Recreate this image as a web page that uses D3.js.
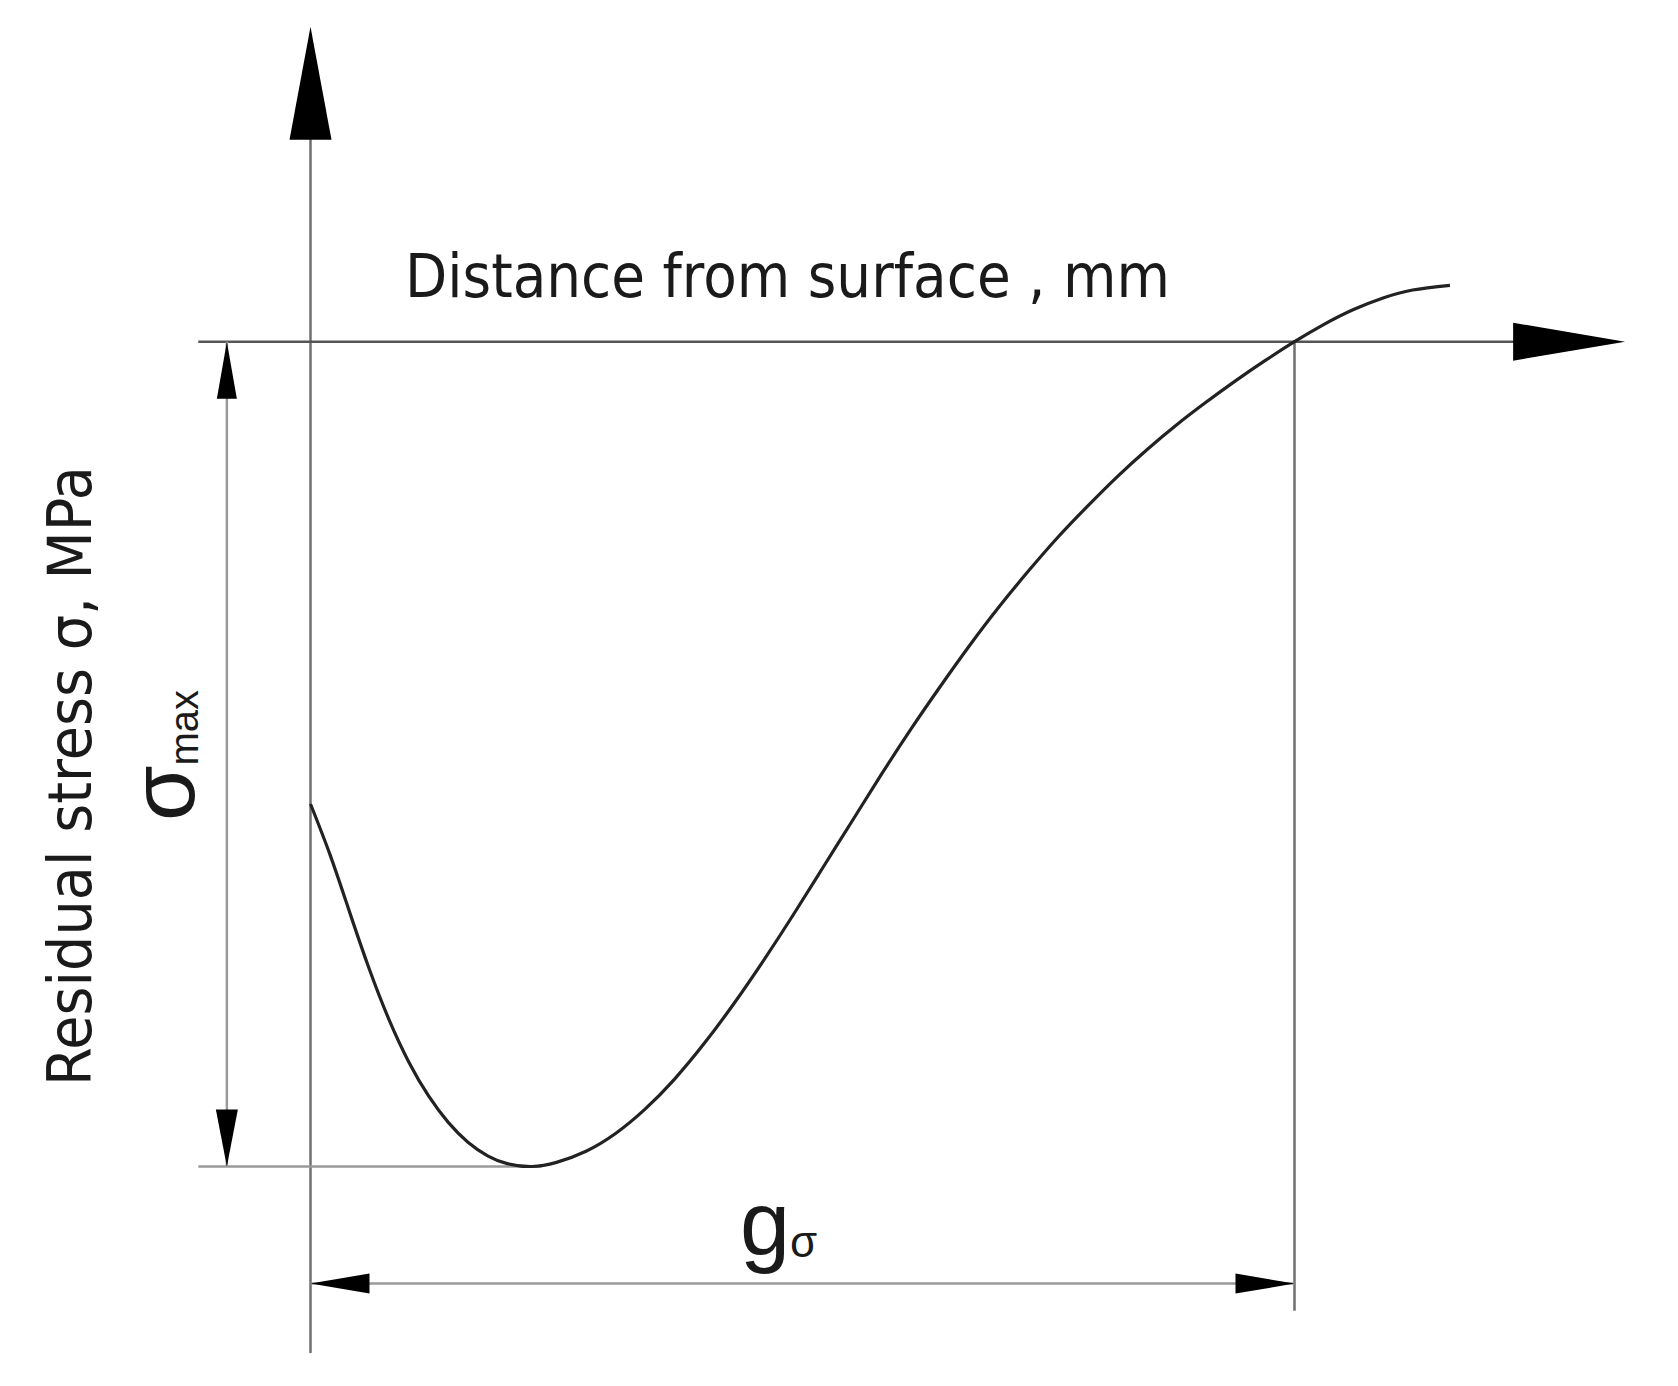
<!DOCTYPE html>
<html>
<head>
<meta charset="utf-8">
<script src="https://cdn.jsdelivr.net/npm/d3@7"></script>
<style>
    body { margin: 0; background: #fff; }
    text { fill: #1a1a1a; }
    .axis-line { stroke: #6f6f6f; stroke-width: 2.5px; fill: none; }
    .x-line { stroke: #555; stroke-width: 2.5px; fill: none; }
    .dim-line { stroke: #9a9a9a; stroke-width: 2.5px; fill: none; }
    .curve { stroke: #222; stroke-width: 3.2px; fill: none; }
    .head { fill: #000; }
</style>
</head>
<body>
<script>

    // depth below surface (gσ = 100) and residual stress (σmax = -100)
    var depth  = [0, 2, 4, 6, 8, 10, 12, 14, 16, 18, 20, 22.5, 25, 28, 31, 34, 37, 40, 43, 46, 49, 52,
                  55, 58, 61, 64, 67, 70, 73, 76, 79, 82, 85, 88, 91, 94, 97, 100, 103, 106, 109, 112, 115.8];
    var stress = [-56.05, -62.25, -69.25, -76.15, -82.25, -87.35, -91.45, -94.65, -97.05, -98.7, -99.65, -100,
                  -99.5, -98.15, -96, -93.05, -89.4, -85.1, -80.3, -75.1, -69.6, -63.9, -58.2, -52.5, -47,
                  -41.8, -36.8, -32.1, -27.75, -23.65, -19.9, -16.35, -13.1, -10.1, -7.35, -4.75, -2.3, 0,
                  2.1, 3.9, 5.3, 6.27, 6.84];

    var xTitle = "Distance from surface , mm";
    var yTitle = "Residual stress σ, MPa";
    var sigmaLabel = ["σ", "max"];
    var depthLabel = ["g", "σ"];

    // how far the axes run, in data units
    var xAxisSpan = [-11.4, 133.6];
    var yAxisSpan = [-122.6, 38.2];

    var width = 1678,
        height = 1386;

    var x = d3.scaleLinear().domain([0, 100]).range([310.5, 1294.5]);
    var y = d3.scaleLinear().domain([-100, 0]).range([1166.5, 341.7]);

    var svg = d3.select("body").append("svg")
        .attr("width", width)
        .attr("height", height);

    function seg(cls, x1, y1, x2, y2) {
        svg.append("line").attr("class", cls)
            .attr("x1", x1).attr("y1", y1).attr("x2", x2).attr("y2", y2);
    }

    // triangle with tip at (tx, ty), pointing in direction dir
    function head(tx, ty, dir, len, half) {
        var pts;
        if (dir === "up") pts = [[tx, ty], [tx - half, ty + len], [tx + half, ty + len]];
        if (dir === "down") pts = [[tx, ty], [tx - half, ty - len], [tx + half, ty - len]];
        if (dir === "left") pts = [[tx, ty], [tx + len, ty - half], [tx + len, ty + half]];
        if (dir === "right") pts = [[tx, ty], [tx - len, ty - half], [tx - len, ty + half]];
        svg.append("path").attr("class", "head")
            .attr("d", d3.line()(pts) + "Z");
    }

    // axes
    seg("axis-line", x(0), y(yAxisSpan[0]), x(0), y(yAxisSpan[1]) + 100);
    head(x(0), y(yAxisSpan[1]), "up", 113, 21);
    seg("x-line", x(xAxisSpan[0]), y(0), x(xAxisSpan[1]) - 100, y(0));
    head(x(xAxisSpan[1]), y(0), "right", 112, 19);

    // extension lines
    seg("dim-line", x(xAxisSpan[0]), y(-100), x(23.5), y(-100));
    seg("axis-line", x(100), y(0), x(100), y(-117.5));

    // σmax dimension
    var dimX = x(-8.5);
    seg("dim-line", dimX, y(0), dimX, y(-100));
    head(dimX, y(0), "up", 57, 10);
    head(dimX, y(-100), "down", 57, 11);

    // gσ dimension
    var dimY = y(-114.2);
    seg("dim-line", x(0), dimY, x(100), dimY);
    head(x(0), dimY, "left", 59, 10);
    head(x(100), dimY, "right", 59, 10);

    // residual stress curve
    var pts = depth.map(function (d, i) { return [d, stress[i]]; });
    svg.append("path")
        .attr("class", "curve")
        .attr("d", d3.line()
            .x(function (d) { return x(d[0]); })
            .y(function (d) { return y(d[1]); })
            .curve(d3.curveNatural)(pts));

    // titles
    svg.append("text")
        .attr("x", 405).attr("y", 297)
        .attr("textLength", 765).attr("lengthAdjust", "spacingAndGlyphs")
        .style("font", "60px 'DejaVu Sans'")
        .text(xTitle);

    svg.append("text")
        .attr("transform", "translate(91,1086) rotate(-90)")
        .attr("textLength", 620).attr("lengthAdjust", "spacingAndGlyphs")
        .style("font", "61px 'DejaVu Sans'")
        .text(yTitle);

    var sm = svg.append("text")
        .attr("transform", "translate(194,821) rotate(-90)")
        .style("font-family", "'Liberation Sans', Arial, sans-serif");
    sm.append("tspan").style("font-size", "90px").text(sigmaLabel[0]);
    sm.append("tspan").attr("dy", 4).style("font-size", "40px").text(sigmaLabel[1]);

    var gs = svg.append("text")
        .attr("x", 740).attr("y", 1255)
        .style("font-family", "'Liberation Sans', Arial, sans-serif");
    gs.append("tspan").style("font-size", "90px").text(depthLabel[0]);
    gs.append("tspan").attr("dy", 2).style("font-size", "44px").text(depthLabel[1]);

</script>
</body>
</html>
